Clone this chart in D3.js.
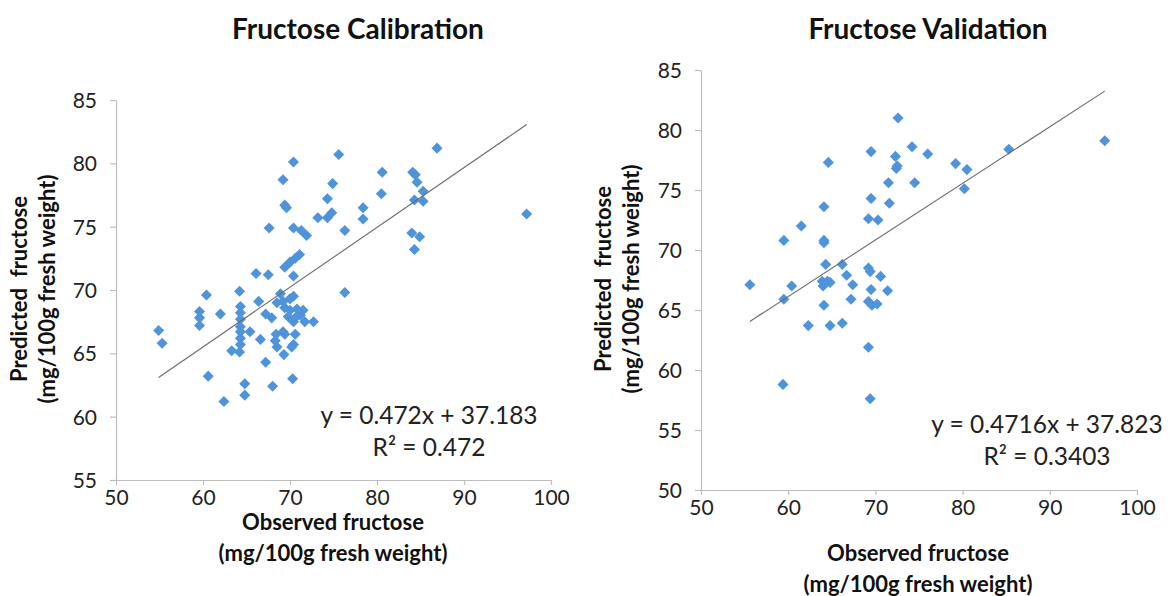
<!DOCTYPE html>
<html>
<head>
<meta charset="utf-8">
<script src="https://cdn.jsdelivr.net/npm/d3@7"></script>
<style>
  html, body { margin: 0; padding: 0; background: #fff; }
  svg { display: block; font-family: Lato, "Open Sans", sans-serif; }
</style>
</head>
<body>
<svg id="chart" width="1171" height="596"></svg>
<script>
// Calibration set: observed vs predicted fructose (mg/100g fresh weight)
const calObserved = [54.9, 55.3, 59.6, 59.6, 59.6, 60.4, 60.6, 62.0, 62.4, 63.3,
  64.2, 64.3, 64.3, 64.3, 64.3, 64.3, 64.3, 64.3, 64.2, 64.8,
  64.8, 65.4, 66.1, 66.4, 66.6, 67.2, 67.2, 67.5, 67.6, 67.9,
  68.0, 68.4, 68.3, 68.5, 68.5, 68.9, 69.2, 69.2, 69.4, 69.6,
  69.2, 69.4, 69.4, 69.3, 69.4, 69.8, 70.0, 70.0, 70.0, 70.4,
  70.4, 70.4, 70.4, 70.6, 70.4, 70.6, 70.6, 70.4, 70.2, 70.3,
  70.8, 71.1, 71.2, 71.3, 71.5, 71.7, 71.9, 72.7, 73.2, 74.3,
  74.8, 74.3, 74.9, 75.6, 76.3, 76.3, 78.4, 78.4, 80.6, 80.5,
  84.1, 84.4, 84.6, 85.3, 84.3, 85.3, 84.0, 84.9, 84.3, 86.9, 97.2];
const calPredicted = [66.8, 65.8, 68.3, 67.8, 67.2, 69.6, 63.2, 68.1, 61.2, 65.2,
  69.9, 68.7, 68.2, 67.7, 67.1, 66.7, 66.2, 65.7, 65.1, 62.6,
  61.7, 66.7, 71.3, 69.1, 66.1, 64.3, 68.1, 71.2, 74.9, 67.8,
  62.4, 66.5, 66.0, 65.5, 69.0, 69.7, 69.1, 78.7, 76.7, 76.5,
  66.7, 68.6, 66.5, 64.9, 71.8, 67.9, 72.2, 69.3, 68.4, 69.5,
  80.1, 74.9, 71.1, 72.5, 67.5, 67.8, 66.5, 65.7, 65.5, 63.0,
  68.5, 72.8, 68.0, 74.7, 68.4, 67.5, 74.3, 67.5, 75.7, 75.7,
  76.1, 77.2, 78.4, 80.7, 74.7, 69.8, 76.5, 75.6, 79.3, 77.6,
  79.3, 79.1, 78.5, 77.8, 77.1, 77.0, 74.5, 74.2, 73.2, 81.2, 76.0];

// Validation set
const valObserved = [72.6, 96.3, 69.5, 74.2, 72.3, 76.0, 85.3, 79.2, 80.5, 72.5,
  72.4, 64.6, 71.5, 74.5, 80.2, 69.5, 71.6, 64.1, 69.2, 70.3,
  61.5, 59.5, 64.1, 64.1, 64.3, 66.2, 66.7, 69.2, 69.4, 70.6,
  55.6, 60.4, 63.9, 64.5, 64.8, 64.0, 67.4, 69.5, 71.4, 59.5,
  67.2, 69.2, 69.6, 70.2, 64.1, 62.3, 64.8, 66.2, 69.2, 59.4, 69.4];
const valPredicted = [81.0, 79.1, 78.2, 78.6, 77.8, 78.0, 78.4, 77.2, 76.7, 77.0,
  76.8, 77.3, 75.6, 75.6, 75.1, 74.3, 73.9, 73.6, 72.6, 72.5,
  72.0, 70.8, 70.8, 70.6, 68.8, 68.8, 67.9, 68.5, 68.2, 67.8,
  67.1, 67.0, 67.4, 67.4, 67.3, 67.0, 67.1, 66.7, 66.6, 65.9,
  65.9, 65.7, 65.4, 65.5, 65.4, 63.7, 63.7, 63.9, 61.9, 58.8, 57.6];

// Axis ticks
const xTicks = [50, 60, 70, 80, 90, 100];
const calYTicks = [55, 60, 65, 70, 75, 80, 85];
const valYTicks = [50, 55, 60, 65, 70, 75, 80, 85];

// Linear trendlines
const calFit = { slope: 0.472, intercept: 37.183, r2: "0.472" };
const valFit = { slope: 0.4716, intercept: 37.823, r2: "0.3403" };

const svg = d3.select("#chart");
const axisGrey = "#bdbdbd";
const markerBlue = "#4f94db";

function panel(opts) {
  const g = svg.append("g");
  const x = d3.scaleLinear().domain([50, 100]).range([opts.left, opts.right]);
  const y = d3.scaleLinear().domain([opts.yTicks[0], opts.yTicks[opts.yTicks.length - 1]])
    .range([opts.bottom, opts.top]);

  // Axes
  const xAxis = d3.axisBottom(x).tickValues(xTicks).tickSize(5).tickSizeOuter(0).tickPadding(5);
  const yAxis = d3.axisLeft(y).tickValues(opts.yTicks).tickSize(6).tickSizeOuter(0).tickPadding(13);

  const gx = g.append("g").attr("transform", `translate(0,${opts.bottom})`).call(xAxis);
  const gy = g.append("g").attr("transform", `translate(${opts.left},0)`).call(yAxis);
  [gx, gy].forEach(a => {
    a.select(".domain").attr("stroke", axisGrey).attr("stroke-width", 1.2);
    a.selectAll(".tick line").attr("stroke", axisGrey).attr("stroke-width", 1.2);
    a.selectAll(".tick text").attr("fill", "#222").style("font-size", "21px")
      .style("font-family", "Lato, 'Open Sans', sans-serif");
  });
  gy.selectAll(".tick text").attr("dy", "0.35em");

  // Points
  const pts = opts.xs.map((v, i) => [v, opts.ys[i]]);
  const diamond = d3.symbol().type(d3.symbolDiamond2).size(78);
  g.append("g").selectAll("path").data(pts).join("path")
    .attr("d", diamond)
    .attr("transform", d => `translate(${x(d[0])},${y(d[1])})`)
    .attr("fill", markerBlue);

  // Trendline over the observed range
  const [xmin, xmax] = d3.extent(opts.xs);
  const f = v => opts.fit.slope * v + opts.fit.intercept;
  g.append("line")
    .attr("x1", x(xmin)).attr("y1", y(f(xmin)))
    .attr("x2", x(xmax)).attr("y2", y(f(xmax)))
    .attr("stroke", "#6a6a6a").attr("stroke-width", 1.1);

  // Equation label
  const eq = g.append("text").attr("text-anchor", "middle")
    .attr("fill", "#222").style("font-size", opts.eqSize + "px");
  eq.append("tspan").attr("x", opts.eqX).attr("y", opts.eqY)
    .text(`y = ${opts.fit.slope}x + ${opts.fit.intercept}`);
  eq.append("tspan").attr("x", opts.eqX).attr("y", opts.eqY + 32)
    .text(`R² = ${opts.fit.r2}`);

  // Title
  g.append("text").attr("x", opts.titleX).attr("y", opts.titleY)
    .attr("text-anchor", "middle").attr("font-weight", "bold")
    .attr("fill", "#111").style("font-size", "28px").text(opts.title);

  // X axis title
  const xt = g.append("text").attr("text-anchor", "middle").attr("font-weight", "bold")
    .attr("fill", "#111").style("font-size", "22px");
  xt.append("tspan").attr("x", opts.xTitleX).attr("y", opts.xTitleY).text("Observed fructose");
  xt.append("tspan").attr("x", opts.xTitleX).attr("y", opts.xTitleY + 31).text("(mg/100g fresh weight)");

  // Y axis title
  const yt = g.append("text").attr("text-anchor", "middle").attr("font-weight", "bold")
    .attr("fill", "#111").style("font-size", "22px")
    .attr("transform", `translate(${opts.yTitleX},${opts.yTitleY}) rotate(-90)`);
  yt.append("tspan").attr("x", 0).attr("y", 0).style("white-space", "pre").text("Predicted  fructose");
  yt.append("tspan").attr("x", 0).attr("y", 28).text("(mg/100g fresh weight)");
}

panel({
  xs: calObserved, ys: calPredicted, fit: calFit, yTicks: calYTicks,
  left: 116, right: 551, top: 100, bottom: 480,
  title: "Fructose Calibration", titleX: 358, titleY: 39,
  eqX: 429, eqY: 424, eqSize: 24.5,
  xTitleX: 333, xTitleY: 530,
  yTitleX: 27, yTitleY: 289
});

panel({
  xs: valObserved, ys: valPredicted, fit: valFit, yTicks: valYTicks,
  left: 701, right: 1137, top: 70, bottom: 490,
  title: "Fructose Validation", titleX: 928, titleY: 39,
  eqX: 1047, eqY: 433, eqSize: 24.5,
  xTitleX: 918, xTitleY: 561,
  yTitleX: 611, yTitleY: 279
});
</script>
</body>
</html>
